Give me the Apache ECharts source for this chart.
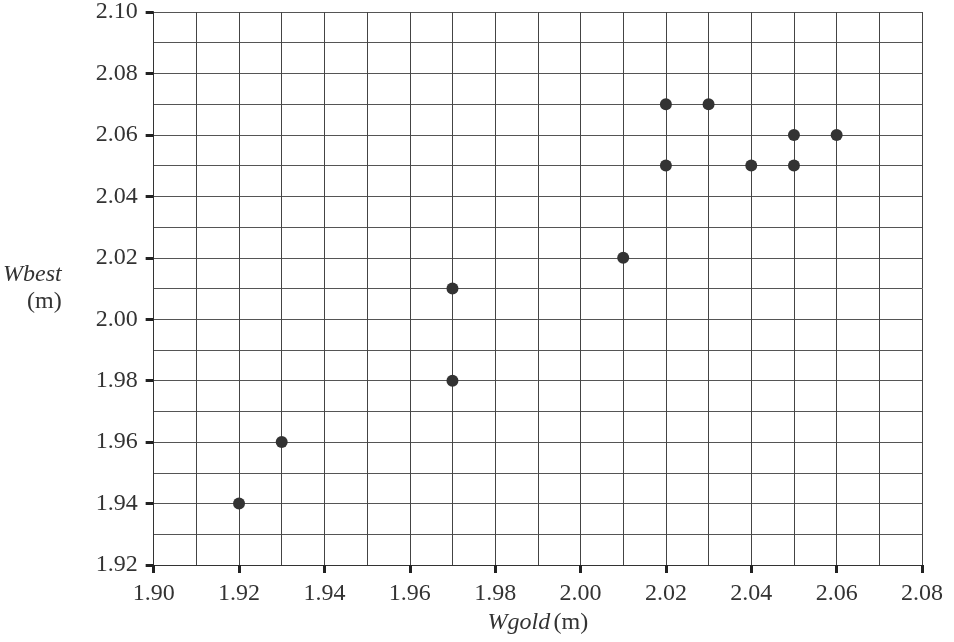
<!DOCTYPE html>
<html>
<head>
<meta charset="utf-8">
<script src="https://cdn.jsdelivr.net/npm/echarts@6/dist/echarts.min.js"></script>
<style>html,body{margin:0;padding:0;background:#fff}#c{width:954px;height:642px}</style>
</head>
<body>
<div id="c"></div>
<script>
var wgold = [1.92, 1.93, 1.97, 1.97, 2.01, 2.02, 2.02, 2.03, 2.04, 2.05, 2.05, 2.06];
var wbest = [1.94, 1.96, 1.98, 2.01, 2.02, 2.05, 2.07, 2.07, 2.05, 2.05, 2.06, 2.06];
var xRange = [1.90, 2.08];
var yRange = [1.92, 2.10];
var tickStep = 0.02;

var points = wgold.map(function (x, i) { return [x, wbest[i]]; });
var font = '"Liberation Serif", "Times New Roman", serif';
var fs = 24;
var chart = echarts.init(document.getElementById('c'));
chart.setOption({
  animation: false,
  backgroundColor: '#fff',
  grid: { left: 152, right: 32, top: 12, bottom: 77 },
  xAxis: {
    type: 'value', min: xRange[0], max: xRange[1], interval: tickStep,
    name: '{i|Wgold} {n|(m)}', nameLocation: 'middle', nameGap: 45,
    nameTextStyle: { rich: { i: { fontFamily: font, fontSize: fs, fontStyle: 'italic', color: '#333' }, n: { fontFamily: font, fontSize: fs, color: '#333' } } },
    axisLine: { show: true, lineStyle: { color: '#333', width: 1 } },
    axisTick: { show: true, length: 8, lineStyle: { color: '#222', width: 3 } },
    axisLabel: { margin: 17, fontFamily: font, fontSize: fs, color: '#333', formatter: function (v) { return v.toFixed(2); } },
    splitLine: { show: true, lineStyle: { color: '#444', width: 1 } },
    minorTick: { show: false, splitNumber: 2 },
    minorSplitLine: { show: true, lineStyle: { color: '#444', width: 1 } }
  },
  yAxis: {
    type: 'value', min: yRange[0], max: yRange[1], interval: tickStep,
    name: '{i|Wbest}\n{n|(m)}', nameLocation: 'middle', nameGap: 92, nameRotate: 0,
    nameTextStyle: { align: 'right', rich: { i: { fontFamily: font, fontSize: fs, fontStyle: 'italic', color: '#333', lineHeight: 27, align: 'right' }, n: { fontFamily: font, fontSize: fs, color: '#333', lineHeight: 27, align: 'right' } } },
    axisLine: { show: true, lineStyle: { color: '#333', width: 1 } },
    axisTick: { show: true, length: 8, lineStyle: { color: '#222', width: 3 } },
    axisLabel: { margin: 16, fontFamily: font, fontSize: fs, color: '#333', formatter: function (v) { return v.toFixed(2); } },
    splitLine: { show: true, lineStyle: { color: '#555', width: 1 } },
    minorTick: { show: false, splitNumber: 2 },
    minorSplitLine: { show: true, lineStyle: { color: '#555', width: 1 } }
  },
  series: [{
    type: 'scatter', data: points, symbol: 'circle', symbolSize: 12,
    itemStyle: { color: '#333', opacity: 1 }
  }]
});
</script>
</body>
</html>
